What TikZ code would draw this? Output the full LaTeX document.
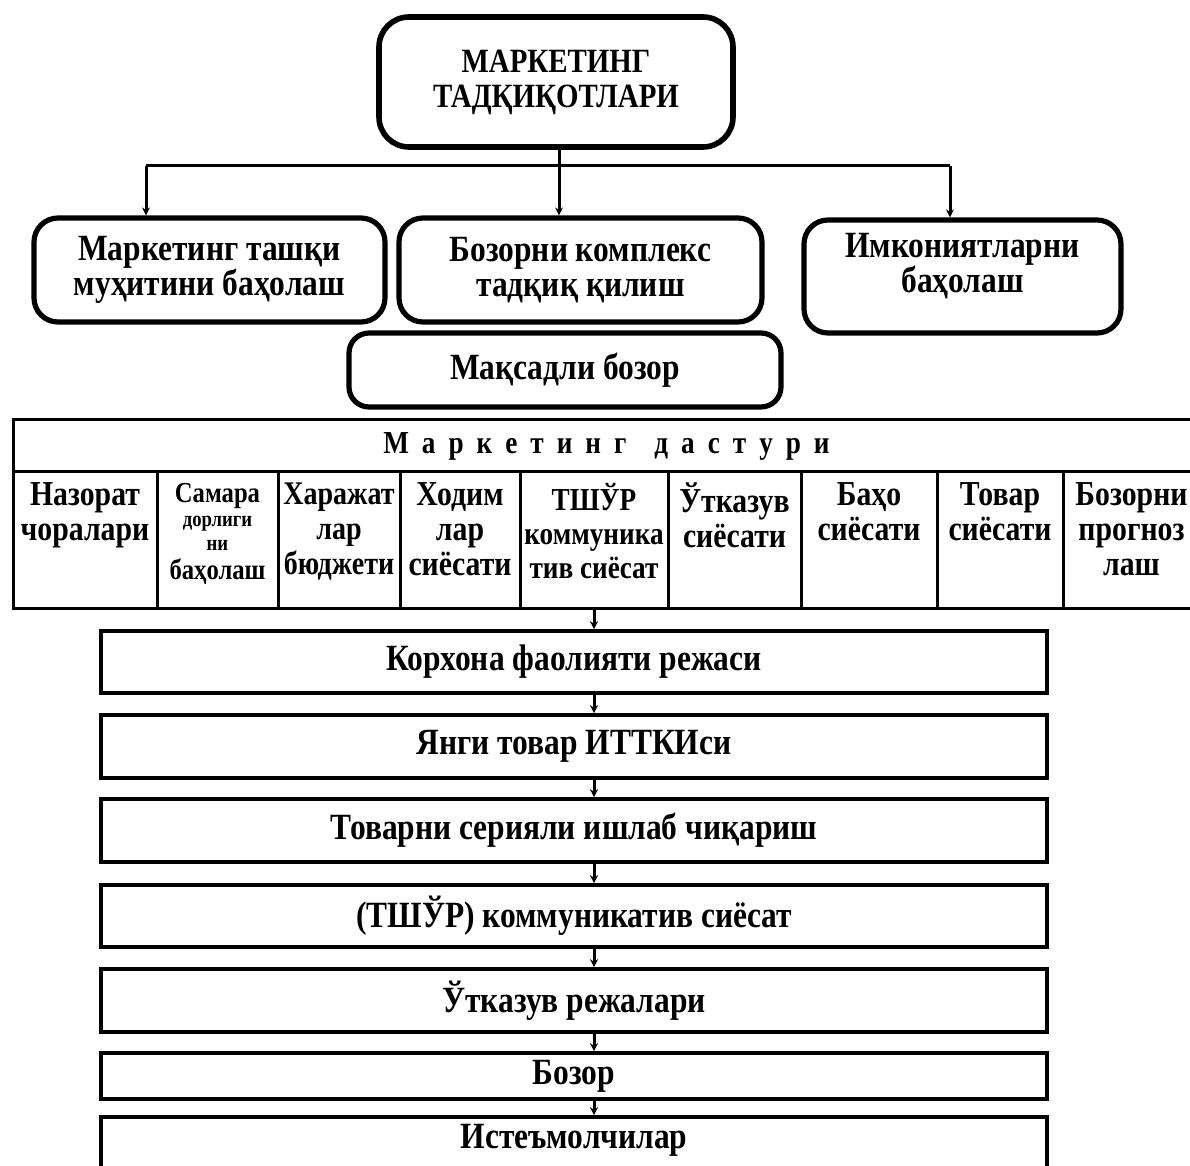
\documentclass[tikz,border=0pt]{standalone}
\usepackage{fontspec}
\setmainfont{Liberation Serif}[FakeStretch=0.85]
\usetikzlibrary{arrows.meta}

\begin{document}
\begin{tikzpicture}[x=0.5pt,y=-0.5pt,
    rbox/.style={draw, line width=2.6pt, rounded corners=12pt, align=center, inner sep=0pt,
        font=\bfseries\fontsize{18.5}{17.5}\selectfont},
    btext/.style={align=center, inner sep=0pt, font=\bfseries\fontsize{18.5}{17.5}\selectfont},
    sbox/.style={draw, line width=1.8pt, minimum width=473pt, align=center, inner sep=0pt,
        font=\bfseries\fontsize{18.5}{18}\selectfont},
    cell/.style={draw, line width=1.5pt, minimum height=68pt, inner sep=0pt},
    ctext/.style={anchor=north, yshift=-6pt, align=center, inner sep=0pt,
        font=\bfseries\fontsize{17.5}{17.5}\selectfont},
    link/.style={line width=1.5pt},
    arr/.style={line width=1.5pt, -{Stealth[length=4pt,width=4pt]}}]
    \clip (0,0) rectangle (1190,1166);
    \fill[white] (0,0) rectangle (1190,1166);

    % research and its three parts
    \node[rbox, line width=2.8pt, rounded corners=15pt, minimum width=177pt, minimum height=65pt,
        font=\bfseries\fontsize{17}{17.5}\selectfont] (mr) at (556,82) {МАРКЕТИНГ\\ТАДҚИҚОТЛАРИ};
    \node[rbox, minimum width=175.5pt, minimum height=52pt] (env) at (209.5,270) {Маркетинг ташқи\\муҳитини баҳолаш};
    \node[rbox, minimum width=181.5pt, minimum height=52pt] (cmp) at (580.5,270) {Бозорни комплекс\\тадқиқ қилиш};
    \node[rbox, minimum width=158.5pt, minimum height=56.5pt] (opp) at (962.5,276.5) {};
    \node[btext] (oppT) at (962.5,266) {Имкониятларни\\баҳолаш};
    \node[rbox, rounded corners=10pt, minimum width=216pt, minimum height=37pt] (tgt) at (565,370) {Мақсадли бозор};

    \coordinate (bus) at (559,166);
    \coordinate (dropL) at (146,166);
    \coordinate (dropR) at (950,166);
    \draw[link] (mr.south -| bus) -- (bus);
    \draw[link] (dropL) -- (dropR);
    \draw[arr] (dropL) -- (dropL |- env.north);
    \draw[arr] (bus) -- (bus |- cmp.north);
    \draw[arr] (dropR) -- (dropR |- opp.north);

    % programme table
    \node[cell, minimum width=593.5pt, minimum height=26pt, font=\bfseries\fontsize{16}{16}\selectfont] (prog) at (606.5,446)
        {\spaceskip=6.5pt М а р к е т и н г\hspace{14pt}д а с т у р и};
    \node[cell, minimum width=72pt] (c1) at (85,540) {};
    \node[cell, minimum width=60.5pt] (c2) at (217.5,540) {};
    \node[cell, minimum width=61pt] (c3) at (339,540) {};
    \node[cell, minimum width=60pt] (c4) at (460,540) {};
    \node[cell, minimum width=74pt] (c5) at (594,540) {};
    \node[cell, minimum width=66.5pt] (c6) at (734.5,540) {};
    \node[cell, minimum width=68pt] (c7) at (869,540) {};
    \node[cell, minimum width=63pt] (c8) at (1000,540) {};
    \node[cell, minimum width=68.5pt] (c9) at (1131.5,540) {};
    \node[ctext] (t1) at (c1.north) {Назорат\\чоралари};
    \node[ctext, font=\bfseries\fontsize{14.5}{12}\selectfont] (t2) at (c2.north)
        {Самара\\{\fontsize{11}{12}\selectfont дорлиги}\\{\fontsize{11}{12}\selectfont ни}\\[2.5pt]баҳолаш};
    \node[ctext, font=\bfseries\fontsize{16.5}{17.5}\selectfont] (t3) at (c3.north) {Харажат\\лар\\бюджети};
    \node[ctext] (t4) at (c4.north) {Ходим\\лар\\сиёсати};
    \node[ctext, font=\bfseries\fontsize{16}{17}\selectfont] (t5) at (c5.north) {ТШЎР\\коммуника\\тив сиёсат};
    \node[ctext] (t6) at (c6.north) {Ўтказув\\сиёсати};
    \node[ctext] (t7) at (c7.north) {Баҳо\\сиёсати};
    \node[ctext] (t8) at (c8.north) {Товар\\сиёсати};
    \node[ctext] (t9) at (c9.north) {Бозорни\\прогноз\\лаш};

    % chain of plans
    \node[sbox, minimum height=31pt] (b1) at (574,662) {Корхона фаолияти режаси};
    \node[sbox, minimum height=31.5pt] (b2) at (574,746.5) {Янги товар ИТТКИси};
    \node[sbox, minimum height=31.5pt] (b3) at (574,830.5) {Товарни серияли ишлаб чиқариш};
    \node[sbox, minimum height=31pt] (b4) at (574,916) {(ТШЎР) коммуникатив сиёсат};
    \node[sbox, minimum height=31.5pt] (b5) at (574,1000.5) {Ўтказув режалари};
    \node[sbox, minimum height=23pt] (b6) at (574,1076) {Бозор};
    \node[sbox, minimum height=33pt] (b7) at (574,1150) {};
    \node[btext] (b7T) at (574,1140) {Истеъмолчилар};

    \coordinate (axis) at (594,0);
    \draw[arr] (c5.south) -- (c5.south |- b1.north);
    \draw[arr] (b1.south -| axis) -- (b2.north -| axis);
    \draw[arr] (b2.south -| axis) -- (b3.north -| axis);
    \draw[arr] (b3.south -| axis) -- (b4.north -| axis);
    \draw[arr] (b4.south -| axis) -- (b5.north -| axis);
    \draw[arr] (b5.south -| axis) -- (b6.north -| axis);
    \draw[arr] (b6.south -| axis) -- (b7.north -| axis);
\end{tikzpicture}
\end{document}
